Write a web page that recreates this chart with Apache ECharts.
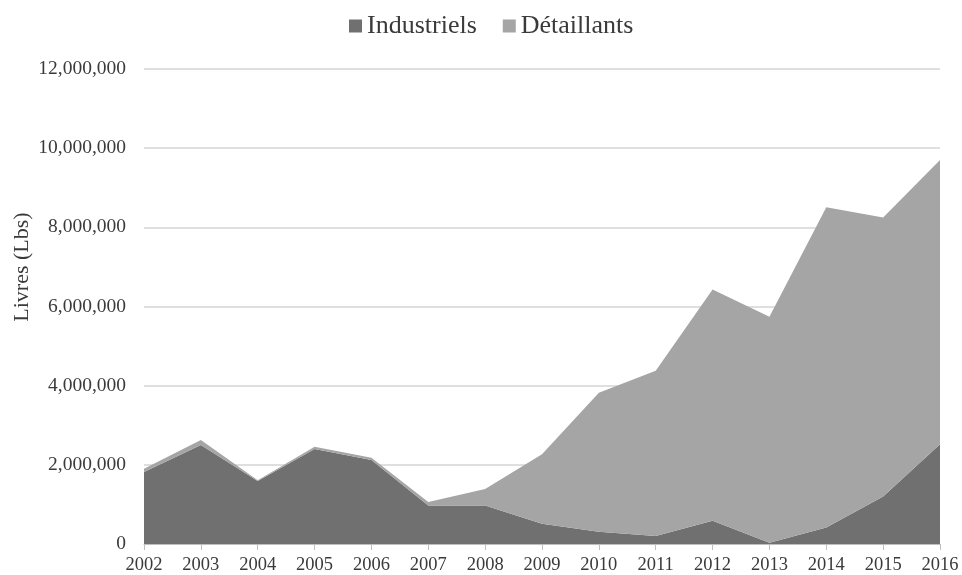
<!DOCTYPE html>
<html>
<head>
<meta charset="utf-8">
<script src="https://cdn.jsdelivr.net/npm/echarts@6/dist/echarts.min.js"></script>
<style>
  html, body { margin: 0; padding: 0; background: #fff; }
  #chart { width: 962px; height: 575px; }
</style>
</head>
<body>
<div id="chart"></div>
<script>
// Years on the horizontal axis
var years = ['2002','2003','2004','2005','2006','2007','2008','2009','2010','2011','2012','2013','2014','2015','2016'];

// Pounds per year, industrial buyers
var industriels = [1820000, 2500000, 1590000, 2400000, 2120000, 970000, 970000, 510000, 310000, 200000, 590000, 30000, 420000, 1200000, 2520000];

// Pounds per year, retailers (stacked on top)
var detaillants = [80000, 130000, 20000, 60000, 60000, 90000, 420000, 1760000, 3510000, 4180000, 5840000, 5710000, 8090000, 7050000, 7180000];

var fontFamily = '"Liberation Serif", "Times New Roman", serif';
var textColor = '#3a3a3a';

var chart = echarts.init(document.getElementById('chart'));
chart.setOption({
  animation: false,
  textStyle: { fontFamily: fontFamily },
  legend: {
    top: 8,
    left: 344,
    itemWidth: 13,
    itemHeight: 13,
    itemGap: 26,
    icon: 'rect',
    textStyle: { fontFamily: fontFamily, fontSize: 26, color: textColor },
    data: ['Industriels', 'Détaillants']
  },
  grid: { left: 144, right: 22, top: 69, bottom: 31 },
  graphic: [
    {
      type: 'text',
      x: 22,
      y: 267,
      rotation: Math.PI / 2,
      style: {
        text: 'Livres (Lbs)',
        font: '22px ' + fontFamily,
        fill: textColor,
        align: 'center',
        verticalAlign: 'middle'
      }
    }
  ],
  xAxis: {
    type: 'category',
    data: years,
    boundaryGap: false,
    axisLine: { lineStyle: { color: '#bfbfbf', width: 1 } },
    axisTick: { show: true, length: 6, lineStyle: { color: '#bfbfbf' } },
    axisLabel: { fontFamily: fontFamily, fontSize: 18.5, color: textColor, margin: 12 }
  },
  yAxis: {
    type: 'value',
    min: 0,
    max: 12000000,
    interval: 2000000,
    axisLine: { show: false },
    axisTick: { show: false },
    splitLine: { lineStyle: { color: '#d4d4d4', width: 1.5 } },
    axisLabel: {
      fontFamily: fontFamily,
      fontSize: 19.5,
      color: textColor,
      margin: 18,
      formatter: function (v) { return v.toLocaleString('en-US'); }
    }
  },
  series: [
    {
      name: 'Industriels',
      type: 'line',
      stack: 'total',
      data: industriels,
      symbol: 'none',
      lineStyle: { width: 0 },
      itemStyle: { color: '#707070' },
      areaStyle: { color: '#707070', opacity: 1 }
    },
    {
      name: 'Détaillants',
      type: 'line',
      stack: 'total',
      data: detaillants,
      symbol: 'none',
      lineStyle: { width: 0 },
      itemStyle: { color: '#a5a5a5' },
      areaStyle: { color: '#a5a5a5', opacity: 1 }
    }
  ]
});
</script>
</body>
</html>
